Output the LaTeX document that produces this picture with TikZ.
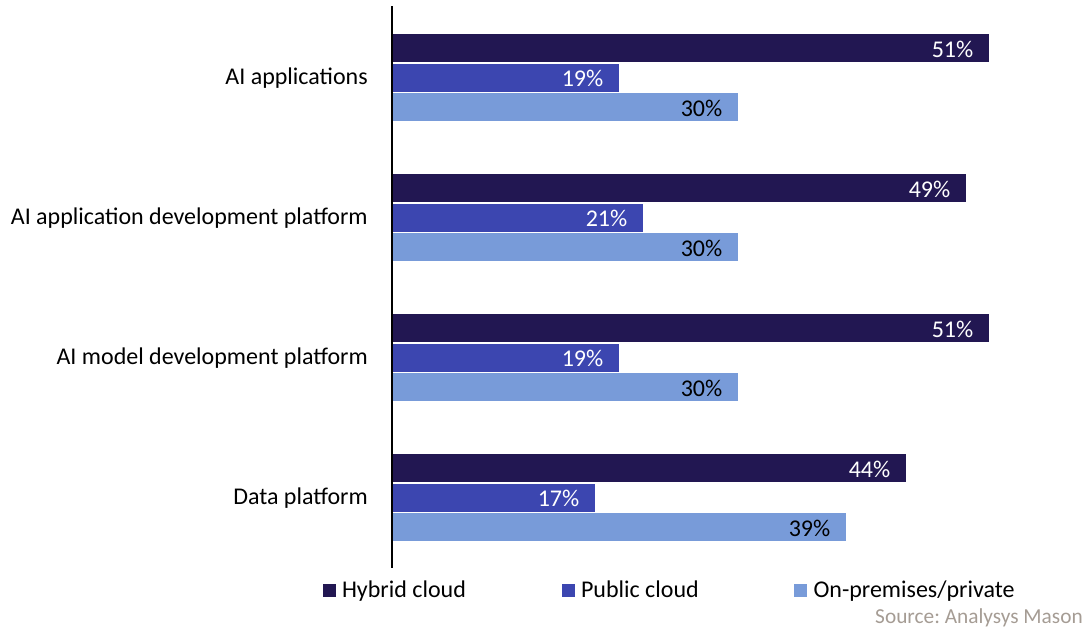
\documentclass[tikz,border=0pt]{standalone}
\usepackage{fontspec}
\setmainfont{Carlito}
\usetikzlibrary{positioning}
\definecolor{hybridc}{HTML}{221752}
\definecolor{publicc}{HTML}{3C46B0}
\definecolor{onpremc}{HTML}{789BD9}
\definecolor{sourcec}{HTML}{A59C94}
\tikzstyle{bar} = [rectangle, draw=white, line width=0.4pt, inner sep=0pt, minimum height=21.75pt]
\tikzstyle{val} = [inner sep=0pt, text height=16pt, text depth=2pt, font=\fontsize{18}{20}\selectfont]
\tikzstyle{cat} = [inner sep=0pt, text height=13pt, text depth=2pt, font=\fontsize{18}{20}\selectfont]
\tikzstyle{key} = [rectangle, inner sep=0pt, minimum size=9.75pt]

\begin{document}
\frenchspacing
\begin{tikzpicture}[x=0.75pt, y=-0.75pt]
\useasboundingbox (0,0) rectangle (1089,629);

% bars, one group per category
\foreach \g/\yy/\lab/\h/\p/\o/\hv/\pv/\ov in {
  1/33/AI applications/597/227/346/51/19/30,
  2/173/AI application development platform/574/251/346/49/21/30,
  3/313/AI model development platform/597/227/346/51/19/30,
  4/453/Data platform/514/203/454/44/17/39} {
  \node [bar, fill=hybridc, anchor=north west, minimum width=\h*0.75pt] (hyb\g) at (392,\yy) {};
  \node [bar, fill=publicc, below right=0pt and 0pt of hyb\g.south west, minimum width=\p*0.75pt] (pub\g) {};
  \node [bar, fill=onpremc, below right=0pt and 0pt of pub\g.south west, minimum width=\o*0.75pt] (onp\g) {};
  \node [val, text=white, left=12pt of hyb\g.east] {\hv\%};
  \node [val, text=white, left=12pt of pub\g.east] {\pv\%};
  \node [val, text=black, left=12pt of onp\g.east] {\ov\%};
  \node [cat, left=18pt of pub\g.west] (cat\g) {\lab};
}

\coordinate (axtop) at (392,6);
\coordinate (axbot) at (392,568);
\draw [line width=1.5pt] (axtop) -- (axbot);

% legend
\node [key, fill=hybridc] (khyb) at (329,590.5) {};
\node [cat, right=4.5pt of khyb] (lhyb) {Hybrid cloud};
\node [key, fill=publicc] (kpub) at (568,590.5) {};
\node [cat, right=4.5pt of kpub] (lpub) {Public cloud};
\node [key, fill=onpremc] (konp) at (800.5,590.5) {};
\node [cat, right=4.5pt of konp] (lonp) {On-premises/private};

\node [anchor=base east, inner sep=0pt, text=sourcec, font=\fontsize{16}{18}\selectfont] (source) at (1083,623) {Source: Analysys Mason};

\end{tikzpicture}
\end{document}
